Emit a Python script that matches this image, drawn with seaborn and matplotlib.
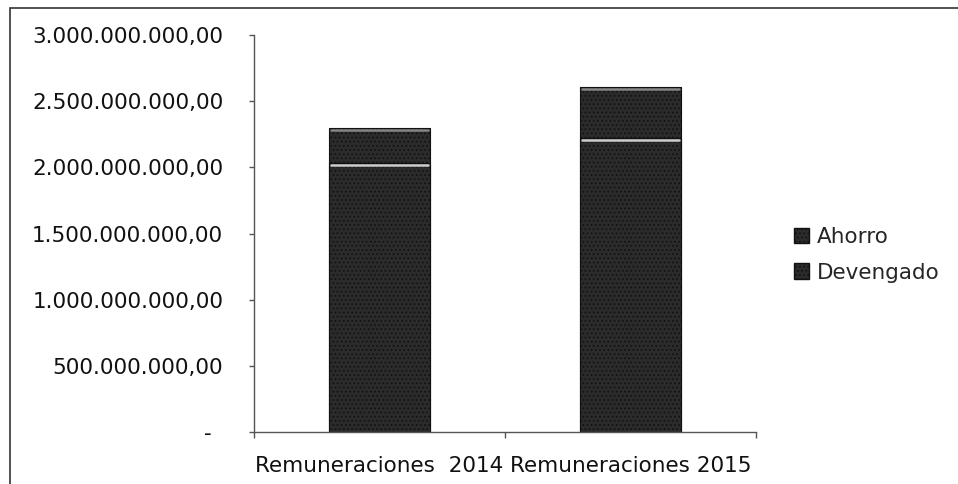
import matplotlib
matplotlib.use("Agg")
import matplotlib.pyplot as plt
import matplotlib.transforms as mtransforms
from matplotlib.patches import Patch, Rectangle
import seaborn as sns
import pandas as pd

## data
categorias = ["Remuneraciones  2014", "Remuneraciones 2015"]
devengado = [2.03e9, 2.22e9]
ahorro = [0.27e9, 0.385e9]
yticks = [0, 5e8, 1e9, 1.5e9, 2e9, 2.5e9, 3e9]

df = pd.DataFrame({"cat": categorias, "Devengado": devengado, "Ahorro": ahorro})
df["total"] = df["Devengado"] + df["Ahorro"]

sns.set_theme(style="white")
plt.rcParams["font.family"] = ["DejaVu Sans"]
plt.rcParams["hatch.color"] = "#8f8f8f"
plt.rcParams["hatch.linewidth"] = 0.7

fs = 15.5
fig = plt.figure(figsize=(9.58, 4.84), dpi=100)
ax = fig.add_axes([254/958, 1-432/484, (756-254)/958, (432-35)/484])

bar_col = "#2b2b2b"
# stacked: total first (Ahorro on top), then Devengado over it
a = sns.barplot(data=df, x="cat", y="total", color=bar_col, width=0.405,
                saturation=1, ax=ax, edgecolor="#111111", linewidth=0.8)
b = sns.barplot(data=df, x="cat", y="Devengado", color=bar_col, width=0.405,
                saturation=1, ax=ax, edgecolor="#111111", linewidth=0.8)
for p in ax.patches:
    p.set_hatch("....")
# thin light line at top of each segment
for p in ax.patches:
    x0 = p.get_x(); w = p.get_width(); h = p.get_height()
    ax.plot([x0 + 0.01, x0 + w - 0.01], [h - 1.5e7, h - 1.5e7], color="#e0e0e0",
            lw=1.8, zorder=5, alpha=0.9 if p in ax.patches[2:] else 0.5)

ax.set_ylim(0, 3e9)
ax.set_xlim(-0.5, 1.5)

def fmt(v):
    if v == 0:
        return "-"
    s = f"{v:,.2f}"
    return s.replace(",", "X").replace(".", ",").replace("X", ".")

ax.set_yticks(yticks, [fmt(v) for v in yticks])
ax.set_xticks([0, 1], categorias)
ax.set_xticks([-0.5, 0.5, 1.5], minor=True)
ax.set_xlabel("")
ax.set_ylabel("")

for s in ["top", "right"]:
    ax.spines[s].set_visible(False)
for s in ["left", "bottom"]:
    ax.spines[s].set_color("#555555")
    ax.spines[s].set_linewidth(1.0)

ax.tick_params(axis="y", which="major", length=3.6, width=1, color="#555555",
               direction="out", left=True, pad=18.5, labelsize=fs, labelcolor="#111111")
ax.tick_params(axis="x", which="major", length=0, pad=17, labelsize=fs, labelcolor="#111111")
ax.tick_params(axis="x", which="minor", length=4, width=1, color="#555555",
               direction="out", bottom=True)

# zero label ("-") sits left of the others, like Excel's accounting format
zl = ax.yaxis.get_major_ticks()[0].label1
zl.set_transform(zl.get_transform() + mtransforms.ScaledTranslation(-12/100, 0, fig.dpi_scale_trans))

handles = [Patch(facecolor=bar_col, edgecolor="#111111", hatch="....", label="Ahorro"),
           Patch(facecolor=bar_col, edgecolor="#111111", hatch="....", label="Devengado")]
fig.legend(handles=handles, loc="center left", bbox_to_anchor=(775/958, 1-255/484),
           frameon=False, fontsize=fs, handlelength=0.7, handleheight=0.7,
           handletextpad=0.35, labelspacing=0.7)

# outer chart border (scan shows only left and top edges)
fig.patches.append(Rectangle((10/958, -0.1), 1.2, 1.1 - 8/484, transform=fig.transFigure,
                             fill=False, edgecolor="#333333", linewidth=1.2))

plt.savefig("out.png", dpi=100)
